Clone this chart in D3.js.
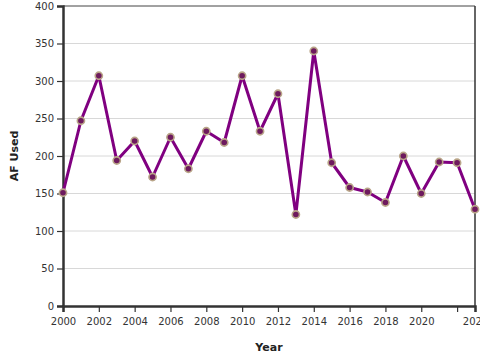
<!DOCTYPE html>
<html>
<head>
<meta charset="utf-8">
<script src="https://cdn.jsdelivr.net/npm/d3@7"></script>
<style>
  html, body { margin: 0; padding: 0; background: #fff; }
  svg { display: block; }
  text { font-family: "DejaVu Sans", Verdana, sans-serif; }
</style>
</head>
<body>
<svg id="chart" width="480" height="360"></svg>
<script>
const years = [2000,2001,2002,2003,2004,2005,2006,2007,2008,2009,2010,2011,2012,2013,2014,2015,2016,2017,2018,2019,2020,2021,2022,2023];
const afUsed = [151,247,307,194,220,172,225,183,233,218,307,233,283,122,340,191,158,152,138,200,150,192,191,129];
const yTicks = [0,50,100,150,200,250,300,350,400];
const xTicks = [2000,2002,2004,2006,2008,2010,2012,2014,2016,2018,2020,2022,2023];
const xTickLabels = ["2000","2002","2004","2006","2008","2010","2012","2014","2016","2018","2020","","2023"];

const svg = d3.select("#chart");
const margin = {left: 63, right: 5, top: 6, bottom: 54};
const W = 480, H = 360;
const x = d3.scaleLinear().domain([2000, 2023]).range([margin.left, W - margin.right]);
const y = d3.scaleLinear().domain([0, 400]).range([H - margin.bottom, margin.top]);

// gridlines
svg.append("g").selectAll("line").data(yTicks.filter(d => d > 0)).join("line")
  .attr("x1", margin.left).attr("x2", W - margin.right)
  .attr("y1", d => y(d)).attr("y2", d => y(d))
  .attr("stroke", d => d === 400 ? "#444" : "#d8d8d8").attr("stroke-width", 1);

// right border
svg.append("line")
  .attr("x1", x(2023)).attr("x2", x(2023))
  .attr("y1", y(400)).attr("y2", y(0))
  .attr("stroke", "#333").attr("stroke-width", 1.5);

// y axis
const yAxis = svg.append("g").attr("transform", `translate(${margin.left},0)`)
  .call(d3.axisLeft(y).tickValues(yTicks).tickSize(6).tickPadding(3));
yAxis.select(".domain").attr("stroke", "#333").attr("stroke-width", 2.5);
yAxis.selectAll(".tick line").attr("stroke", "#333").attr("stroke-width", 1.2);
yAxis.selectAll(".tick text").attr("font-size", 10).attr("fill", "#333")
  .style("font-family", "DejaVu Sans, sans-serif");

// x axis
const xAxis = svg.append("g").attr("transform", `translate(0,${y(0)})`)
  .call(d3.axisBottom(x).tickValues(xTicks).tickSize(6).tickPadding(6)
    .tickFormat((d, i) => xTickLabels[i]));
xAxis.select(".domain").attr("stroke", "#333").attr("stroke-width", 2.5);
xAxis.selectAll(".tick line").attr("stroke", "#333").attr("stroke-width", 1.2);
xAxis.selectAll(".tick text").attr("font-size", 10).attr("fill", "#333")
  .style("font-family", "DejaVu Sans, sans-serif");

// axis titles
svg.append("text").attr("x", 269).attr("y", 351).attr("text-anchor", "middle")
  .attr("font-size", 11).attr("font-weight", "bold").attr("fill", "#222").text("Year");
svg.append("text").attr("transform", "translate(18,156) rotate(-90)").attr("text-anchor", "middle")
  .attr("font-size", 11).attr("font-weight", "bold").attr("fill", "#222").text("AF Used");

// line
const data = years.map((yr, i) => ({year: yr, v: afUsed[i]}));
svg.append("path").datum(data)
  .attr("fill", "none").attr("stroke", "#800080").attr("stroke-width", 3)
  .attr("stroke-linejoin", "round")
  .attr("d", d3.line().x(d => x(d.year)).y(d => y(d.v)));

// points
svg.append("g").selectAll("circle").data(data).join("circle")
  .attr("cx", d => x(d.year)).attr("cy", d => y(d.v)).attr("r", 3.6)
  .attr("fill", "#6e1a5e").attr("stroke", "#b9a588").attr("stroke-width", 1.6);
</script>
</body>
</html>
